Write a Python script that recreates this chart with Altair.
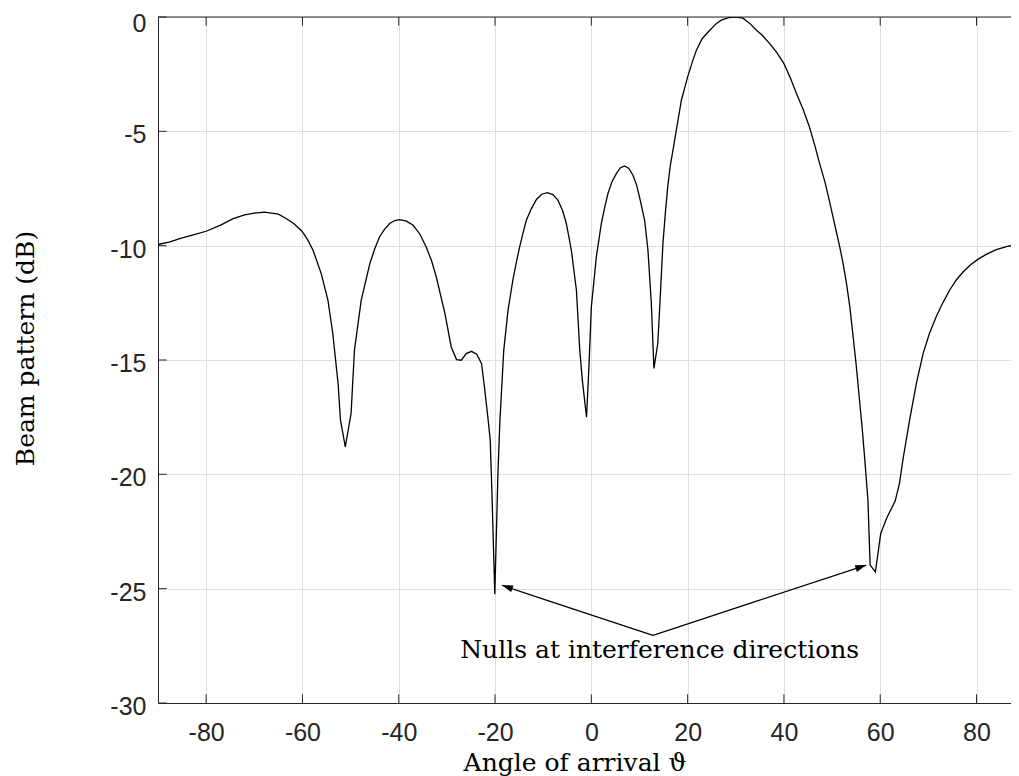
import altair as alt
import pandas as pd

# ---- data ----
angle = [-90, -87.5, -85.5, -82.5, -80, -77, -74.4, -72, -70, -67.9, -65, -63.3, -61.7, -60.1,
         -58.9, -57.8, -56.1, -54.7, -53.7, -52.6, -52.1, -51.1, -49.9, -49.2, -47.8, -46.0,
         -45.0, -44.0, -43.0, -41.9, -40.8, -39.8, -38.4, -37.0, -35.6, -34.3, -33.2, -32.2,
         -30.4, -29.1, -28.0, -27.0, -26.0, -24.9, -23.8, -22.8, -22.2, -21.5, -21.0, -20.6,
         -20.05, -19.4, -19.0, -18.2, -17.3, -16.3, -15.6, -14.9, -14.2, -13.5, -12.5, -11.4,
         -10.3, -9.14, -8.0, -6.94, -6.0, -5.19, -4.15, -3.1, -2.4, -1.87, -1.0, -0.5, 0,
         1.04, 2.08, 2.8, 3.45, 4.3, 5.19, 6.0, 6.9, 7.8, 8.64, 9.4, 10.0, 11.07, 11.76, 12.46,
         13.0, 13.8, 14.3, 14.87, 15.4, 15.9, 16.4, 16.95, 17.65, 18.7, 20, 21, 21.8, 23, 24.6,
         26, 27, 28.5, 30, 31.5, 33, 34.3, 35.5, 37, 38.5, 40, 41.3, 42.6, 44, 45.3, 46.4,
         47.4, 48.5, 49.4, 50.2, 51, 51.6, 52.3, 53.0, 53.7, 54.3, 55.0, 55.7, 56.3, 56.8,
         57.45, 57.9, 59.0, 60.1, 61.3, 63.1, 64.0, 64.7, 66.1, 67.5, 68.9, 70.2, 71.6, 73,
         74.4, 75.8, 77.2, 78.7, 80.2, 82, 84.1, 86.4, 88.7, 90]
gain = [-9.95, -9.83, -9.69, -9.52, -9.37, -9.1, -8.82, -8.65, -8.58, -8.53, -8.62, -8.82,
        -9.05, -9.37, -9.75, -10.2, -11.22, -12.39, -13.84, -16.03, -17.63, -18.8, -17.34,
        -14.57, -12.39, -10.78, -10.15, -9.62, -9.3, -9.03, -8.9, -8.86, -8.93, -9.11, -9.5,
        -10.06, -10.65, -11.37, -12.97, -14.43, -14.98, -15.01, -14.72, -14.62, -14.75, -15.16,
        -16.18, -17.49, -18.5, -21.13, -25.24, -19.97, -17.7, -14.6, -12.82, -11.51, -10.75,
        -10.06, -9.45, -8.89, -8.4, -7.98, -7.75, -7.68, -7.77, -8.01, -8.45, -9.03, -10.2,
        -11.95, -14.57, -15.88, -17.5, -15.3, -12.68, -10.49, -9.03, -8.3, -7.72, -7.2, -6.85,
        -6.6, -6.51, -6.62, -6.92, -7.35, -7.87, -8.89, -10.2, -12.53, -15.37, -14.28, -12.3,
        -9.9, -8.5, -7.35, -6.5, -5.83, -4.95, -3.64, -2.62, -1.95, -1.46, -0.95, -0.58, -0.28,
        -0.14, -0.03, 0, -0.05, -0.3, -0.58, -0.8, -1.15, -1.55, -2.04, -2.65, -3.35, -4.05,
        -4.81, -5.6, -6.4, -7.2, -8.0, -8.75, -9.5, -10.06, -10.8, -11.66, -12.7, -13.84,
        -15.2, -16.76, -18.1, -19.38, -21.13, -23.97, -24.27, -22.59, -21.93, -21.17, -20.4,
        -19.38, -17.63, -16.03, -14.72, -13.85, -13.12, -12.5, -11.95, -11.5, -11.15, -10.85,
        -10.61, -10.38, -10.17, -10.03, -9.95, -9.93]

x_ticks = [-80, -60, -40, -20, 0, 20, 40, 60, 80]
y_ticks = [0, -5, -10, -15, -20, -25, -30]

arrow_x = [-18.57, -9.35, 12.8, 12.8, 34.96, 57.1]
arrow_y = [-24.85, -25.5, -27.04, -27.04, -25.5, -23.97]
arrow_grp = [1, 1, 1, 2, 2, 2]
head_x = [-18.57, 57.1]
head_y = [-24.85, -23.97]
head_angle = [288.7, 71.8]
note_text = ["Nulls at interference directions"]
note_x = [14.2]
note_y = [-28.04]

# ---- layout / style ----
W, H = 853, 686
TICK = 8.7
AX = "#262626"
GRID = "#dfdfdf"
SERIF = "DejaVu Serif"
SANS = "Liberation Sans"

xscale = alt.Scale(domain=[-90, 87.16], nice=False, zero=False)
yscale = alt.Scale(domain=[-30, 0], nice=False, zero=False)

XF, YF = "angle", "gain"

curve = pd.DataFrame({XF: angle, YF: gain})

line = alt.Chart(curve).mark_line(color="black", strokeWidth=1.3, clip=True).encode(
    x=alt.X(f"{XF}:Q", scale=xscale,
            axis=alt.Axis(values=x_ticks, grid=True, gridColor=GRID, gridWidth=1,
                          ticks=False, tickSize=0, domain=True, domainColor=AX, domainWidth=1,
                          labelFont=SANS, labelFontSize=25, labelColor=AX,
                          labelBaseline="alphabetic", labelPadding=37, labelFlush=False,
                          labelExpr="datum.value + ''",
                          title="Angle of arrival ϑ", titleFont=SERIF, titleFontSize=25,
                          titleFontWeight="normal", titleColor="black",
                          titleX=416.5, titleY=67, titleAlign="center",
                          titleBaseline="alphabetic")),
    y=alt.Y(f"{YF}:Q", scale=yscale,
            axis=alt.Axis(values=y_ticks, grid=True, gridColor=GRID, gridWidth=1,
                          ticks=False, tickSize=0, domain=True, domainColor=AX, domainWidth=1,
                          labelFont=SANS, labelFontSize=25, labelColor=AX,
                          labelBaseline="alphabetic",
                          labelOffset={"condition": {"test": "datum.value == 0", "value": 14.5},
                                       "value": 11.5},
                          labelPadding=12,
                          labelAlign="right", labelExpr="datum.value + ''",
                          title="Beam pattern (dB)", titleFont=SERIF, titleFontSize=25,
                          titleFontWeight="normal", titleColor="black",
                          titleAngle=270, titleX=-125, titleY=331, titleAlign="center",
                          titleBaseline="alphabetic")),
)

xt = pd.DataFrame({XF: x_ticks})
yt = pd.DataFrame({YF: y_ticks})

bottom_ticks = alt.Chart(xt).mark_rule(color=AX, strokeWidth=1).encode(
    x=alt.X(f"{XF}:Q", scale=xscale), y=alt.value(H), y2=alt.value(H - TICK))
top_ticks = alt.Chart(xt).mark_rule(color=AX, strokeWidth=1).encode(
    x=alt.X(f"{XF}:Q", scale=xscale), y=alt.value(0), y2=alt.value(TICK))
left_ticks = alt.Chart(yt).mark_rule(color=AX, strokeWidth=1).encode(
    y=alt.Y(f"{YF}:Q", scale=yscale), x=alt.value(0), x2=alt.value(TICK))
top_border = alt.Chart(pd.DataFrame({YF: [0]})).mark_rule(color=AX, strokeWidth=1).encode(
    y=alt.Y(f"{YF}:Q", scale=yscale), x=alt.value(0), x2=alt.value(W))

arrows_df = pd.DataFrame({XF: arrow_x, YF: arrow_y, "grp": arrow_grp,
                          "ord": list(range(len(arrow_x)))})
arrows = alt.Chart(arrows_df).mark_line(color="black", strokeWidth=1.2).encode(
    x=alt.X(f"{XF}:Q", scale=xscale),
    y=alt.Y(f"{YF}:Q", scale=yscale),
    detail="grp:N", order="ord:Q")

heads_df = pd.DataFrame({XF: head_x, YF: head_y, "ha": head_angle})
heads = alt.Chart(heads_df).mark_point(
    shape="M0,0L0.32,1L-0.32,1Z", filled=True, size=484, color="black", opacity=1,
    strokeWidth=0).encode(
    x=alt.X(f"{XF}:Q", scale=xscale),
    y=alt.Y(f"{YF}:Q", scale=yscale),
    angle=alt.Angle("ha:Q", scale=None))

note_df = pd.DataFrame({XF: note_x, YF: note_y, "txt": note_text})
note = alt.Chart(note_df).mark_text(font=SERIF, fontSize=25, align="center",
                                    baseline="alphabetic", color="black").encode(
    x=alt.X(f"{XF}:Q", scale=xscale),
    y=alt.Y(f"{YF}:Q", scale=yscale),
    text="txt:N")

chart = alt.layer(line, top_border, bottom_ticks, top_ticks, left_ticks,
                  arrows, heads, note).properties(
    width=W, height=H,
    autosize=alt.AutoSizeParams(type="none"),
    padding={"left": 150, "top": 9, "right": 0, "bottom": 73},
    background="white",
).configure_view(strokeWidth=0)

chart.save("out.html", embed_options={"renderer": "svg", "actions": False})
